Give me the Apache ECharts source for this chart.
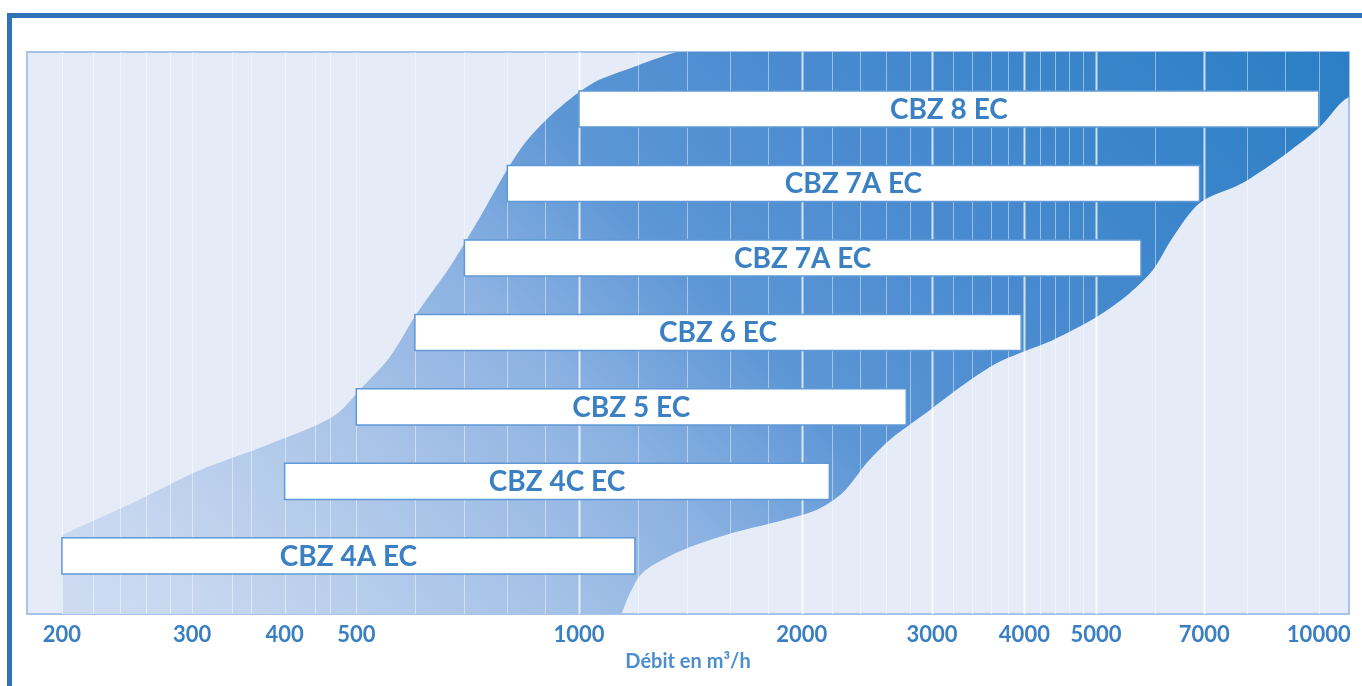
<!DOCTYPE html>
<html>
<head>
<meta charset="utf-8">
<script src="https://cdn.jsdelivr.net/npm/echarts@6/dist/echarts.min.js"></script>
<style>
  html, body { margin: 0; padding: 0; background: #ffffff; }
  #chart { width: 1362px; height: 686px; }
</style>
</head>
<body>
<div id="chart"></div>
<script>
// ---- data ----
const categories = ['CBZ 4A EC', 'CBZ 4C EC', 'CBZ 5 EC', 'CBZ 6 EC', 'CBZ 7A EC', 'CBZ 7A EC', 'CBZ 8 EC'];
const flowMin = [200, 400, 500, 600, 700, 800, 1000];
const flowMax = [1190, 2180, 2770, 3960, 5750, 6900, 10000];

const tickValues = [200, 300, 400, 500, 1000, 2000, 3000, 4000, 5000, 7000, 10000];

const gridLineValues = [200, 220, 240, 260, 280, 300, 340, 360, 400, 440, 460, 500, 600, 700, 800, 900,
  1000, 1200, 1400, 1600, 1800, 2000, 2200, 2400, 2600, 2800, 3000, 3200, 3400, 3600, 3800, 4000,
  4200, 4400, 4600, 4800, 5000, 6000, 7000, 8000, 9000, 10000];
const majorLineValues = [1000, 2000, 3000, 4000, 5000, 7000];

// envelope of the coloured band (flow, row level)
const bandLeftFlow  = [200, 249, 307, 379, 465, 510, 555, 604, 669, 735, 799, 851, 934, 1045, 1183, 1340, 1375];
const bandLeftLevel = [0.28, 0.71, 1.15, 1.49, 1.87, 2.27, 2.67, 3.26, 3.88, 4.55, 5.18, 5.58, 5.99, 6.35, 6.56, 6.75, 6.77];
const bandRightFlow  = [10990, 10040, 9064, 7900, 6910, 6354, 5970, 5556, 5014, 4374, 3984, 3674, 3378, 2982, 2632, 2450, 2274, 2098, 1887, 1615, 1382, 1247, 1198, 1143];
const bandRightLevel = [6.16, 5.76, 5.41, 5.01, 4.74, 4.28, 3.84, 3.53, 3.21, 2.90, 2.74, 2.59, 2.36, 1.96, 1.56, 1.25, 0.85, 0.62, 0.48, 0.31, 0.08, -0.15, -0.32, -0.77];

const axisFlowMin = 179.4, axisFlowMax = 10987;
const levelMin = -0.78, levelMax = 6.765;

// ---- build ----
const lg = Math.log10;
const X_MIN = lg(axisFlowMin), X_MAX = lg(axisFlowMax);

const barData = categories.map((c, i) => [lg(flowMin[i]), lg(flowMax[i]), i, c]);
const lineData = gridLineValues.map(v => [lg(v), majorLineValues.indexOf(v) >= 0 ? 1 : 0]);

const chart = echarts.init(document.getElementById('chart'), null, { renderer: 'canvas' });

function renderBand(params, api) {
  const pts = [];
  const p0 = api.coord([lg(bandLeftFlow[0]), levelMin - 0.3]);
  pts.push(p0, p0);
  for (let i = 0; i < bandLeftFlow.length; i++) {
    const p = api.coord([lg(bandLeftFlow[i]), bandLeftLevel[i]]);
    pts.push(p);
    if (i === 0) pts.push(p);
  }
  const tr = api.coord([X_MAX + 0.05, levelMax + 0.3]);
  pts.push(tr, tr);
  const r0 = api.coord([X_MAX + 0.05, bandRightLevel[0]]);
  pts.push(r0);
  for (let i = 0; i < bandRightFlow.length; i++) {
    pts.push(api.coord([lg(bandRightFlow[i]), bandRightLevel[i]]));
  }
  const pe = api.coord([lg(bandRightFlow[bandRightFlow.length - 1]) - 0.005, levelMin - 0.3]);
  pts.push(pe, pe);
  return {
    type: 'polygon',
    shape: { points: pts, smooth: 0.3 },
    style: {
      fill: new echarts.graphic.LinearGradient(62, 636, 1055, -273, [
        { offset: 0, color: '#cfddf1' },
        { offset: 0.1, color: '#c5d6ef' },
        { offset: 0.28, color: '#a6c2e7' },
        { offset: 0.40, color: '#8cb2e2' },
        { offset: 0.53, color: '#5c96d5' },
        { offset: 0.68, color: '#4a8bd0' },
        { offset: 0.96, color: '#2e80c6' },
        { offset: 1, color: '#2b7ec5' }
      ], true)
    }
  };
}

function renderLine(params, api) {
  const x = api.value(0);
  const a = api.coord([x, levelMax]);
  const b = api.coord([x, levelMin]);
  const major = api.value(1) === 1;
  return {
    type: 'line',
    shape: { x1: Math.round(a[0]) + 0.5, y1: a[1], x2: Math.round(b[0]) + 0.5, y2: b[1] },
    style: { stroke: major ? 'rgba(255,255,255,0.75)' : 'rgba(255,255,255,0.45)', lineWidth: major ? 2 : 1 }
  };
}

function renderBar(params, api) {
  const a = api.coord([api.value(0), api.value(2)]);
  const b = api.coord([api.value(1), api.value(2)]);
  const h = api.size([0, 0.485])[1];
  const name = categories[params.dataIndex];
  return {
    type: 'group',
    children: [
      {
        type: 'rect',
        shape: { x: a[0], y: a[1] - h / 2, width: b[0] - a[0], height: h },
        style: { fill: '#ffffff', stroke: '#5f99d6', lineWidth: 1.5 }
      },
      {
        type: 'text',
        style: {
          text: name, x: (a[0] + b[0]) / 2, y: a[1] + 1,
          align: 'center', verticalAlign: 'middle',
          fill: '#3a80c3', fontSize: 28, fontWeight: 'bold', fontFamily: 'Lato'
        }
      }
    ]
  };
}

const option = {
  backgroundColor: '#ffffff',
  animation: false,
  grid: {
    left: 27, right: 13, top: 52, bottom: 72,
    show: true, backgroundColor: '#e6ecf7', borderColor: '#a6c4e7', borderWidth: 2,
    containLabel: false, outerBoundsMode: 'none'
  },
  xAxis: {
    type: 'value', min: X_MIN, max: X_MAX,
    axisLine: { show: false }, axisTick: { show: false }, splitLine: { show: false },
    axisLabel: {
      customValues: tickValues.map(lg),
      formatter: v => String(Math.round(Math.pow(10, v))),
      margin: 10, color: '#3a7fc1', fontSize: 22, fontWeight: 'bold', fontFamily: 'Lato'
    },
    name: 'Débit en m³/h', nameLocation: 'middle', nameGap: 38,
    nameTextStyle: { color: '#4b8ecf', fontSize: 20, fontWeight: 'bold', fontFamily: 'Lato' }
  },
  yAxis: {
    type: 'value', min: levelMin, max: levelMax, show: false, splitLine: { show: false }
  },
  series: [
    { type: 'custom', name: 'band', renderItem: renderBand, data: [[0, 0]], clip: true, silent: true, z: 1 },
    { type: 'custom', name: 'lines', renderItem: renderLine, data: lineData, clip: true, silent: true, z: 2,
      encode: { x: 0 } },
    { type: 'custom', name: 'ranges', renderItem: renderBar, data: barData, clip: false, z: 3,
      encode: { x: [0, 1], y: 2 } }
  ],
  graphic: [
    { type: 'rect', shape: { x: 7, y: 13, width: 5, height: 680 }, style: { fill: '#2f72b8' }, z: 10 },
    { type: 'rect', shape: { x: 7, y: 13, width: 1360, height: 5 }, style: { fill: '#2f72b8' }, z: 10 }
  ]
};

chart.setOption(option);
</script>
</body>
</html>
